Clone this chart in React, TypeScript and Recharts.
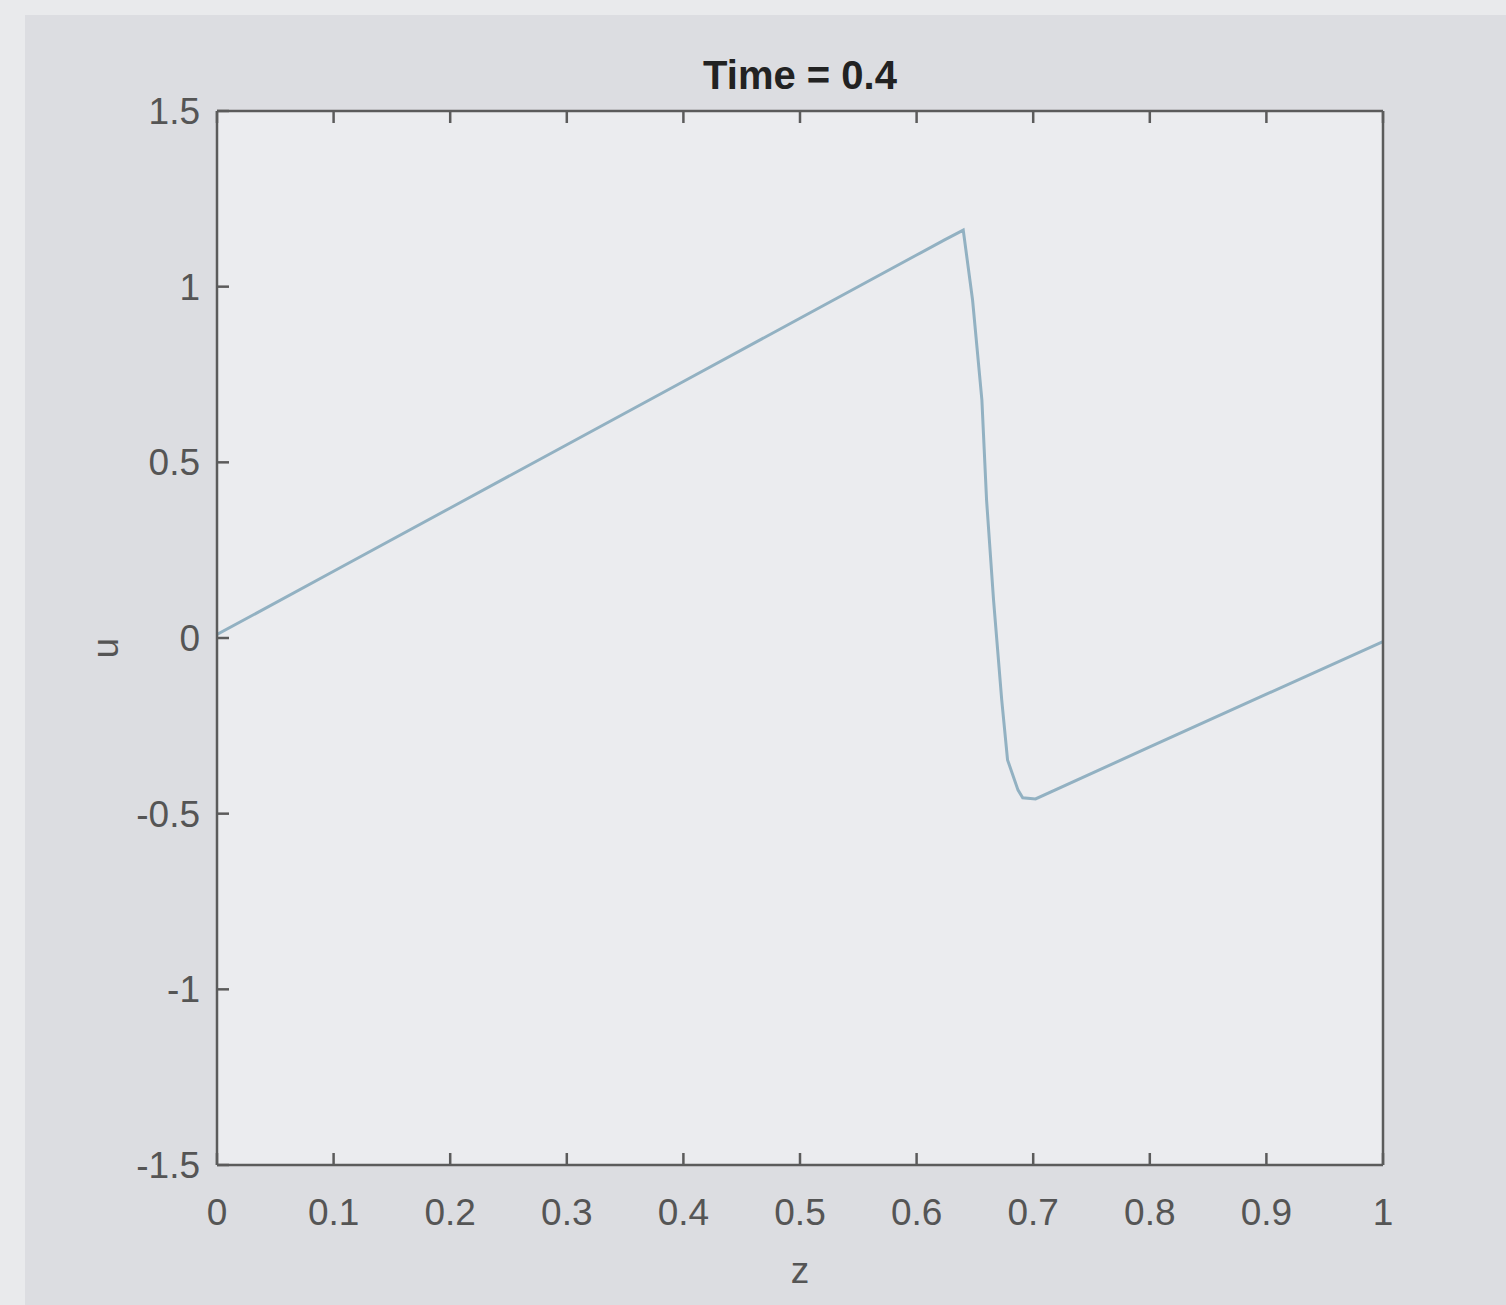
import * as React from "react";
import { CartesianGrid, Line, LineChart, XAxis, YAxis } from "recharts";

// z positions and the solution u at t = 0.4
const zValues = [
  0, 0.1, 0.2, 0.3, 0.4, 0.5, 0.6, 0.624, 0.64, 0.648, 0.656, 0.66, 0.666,
  0.673, 0.678, 0.687, 0.691, 0.702, 0.8, 0.9, 1,
];
const uValues = [
  0.01, 0.19, 0.37, 0.55, 0.73, 0.91, 1.09, 1.133, 1.161, 0.962, 0.677, 0.393,
  0.108, -0.176, -0.347, -0.433, -0.455, -0.458, -0.31, -0.16, -0.01,
];

const xTicks = [0, 0.1, 0.2, 0.3, 0.4, 0.5, 0.6, 0.7, 0.8, 0.9, 1];
const yTicks = [-1.5, -1, -0.5, 0, 0.5, 1, 1.5];

const title = "Time = 0.4";
const xLabel = "z";
const yLabel = "u";

const data = zValues.map((z, i) => ({ z, u: uValues[i] }));

const axisColor = "#5b5b5b";
const textColor = "#555555";
const font = "'Liberation Sans', Arial, sans-serif";
const tickFont = { fontSize: 37, fill: textColor, fontFamily: font };

const noTick = () => <g />;

export default function App() {
  return (
    <div
      style={{
        position: "absolute",
        left: 0,
        top: 0,
        width: 1506,
        height: 1305,
        background: "#e9eaec",
        overflow: "hidden",
      }}
    >
      <div
        style={{
          position: "absolute",
          left: 25,
          top: 15,
          width: 1481,
          height: 1290,
          background: "#dcdde1",
        }}
      />
      <div style={{ position: "absolute", left: 0, top: 0 }}>
        <LineChart
          width={1506}
          height={1305}
          data={data}
          margin={{ top: 110, right: 122, bottom: 80, left: 157 }}
        >
          <CartesianGrid
            horizontal={false}
            vertical={false}
            fill="#ebecef"
            stroke="none"
          />
          <XAxis
            dataKey="z"
            type="number"
            domain={[0, 1]}
            ticks={xTicks}
            interval={0}
            allowDataOverflow
            height={60}
            stroke={axisColor}
            strokeWidth={2.5}
            tickSize={-12}
            tickMargin={46}
            tick={tickFont}
            tickFormatter={(v: number) => String(v)}
            label={{
              value: xLabel,
              position: "insideBottom",
              offset: -58,
              fill: textColor,
              fontSize: 37,
              fontFamily: font,
            }}
          />
          <XAxis
            xAxisId="top"
            dataKey="z"
            type="number"
            orientation="top"
            domain={[0, 1]}
            ticks={xTicks}
            interval={0}
            height={1}
            stroke={axisColor}
            strokeWidth={2.5}
            tickSize={-12}
            tick={noTick}
            label={{
              value: title,
              position: "top",
              offset: 21,
              fill: "#222222",
              fontSize: 40,
              fontWeight: "bold",
              fontFamily: font,
            }}
          />
          <YAxis
            type="number"
            domain={[-1.5, 1.5]}
            ticks={yTicks}
            interval={0}
            allowDataOverflow
            width={60}
            stroke={axisColor}
            strokeWidth={2.5}
            tickSize={-12}
            tickMargin={29}
            tick={tickFont}
            tickFormatter={(v: number) => String(v)}
            label={{
              value: yLabel,
              angle: -90,
              position: "left",
              offset: 52,
              fill: textColor,
              fontSize: 37,
              fontFamily: font,
            }}
          />
          <YAxis
            yAxisId="right"
            type="number"
            orientation="right"
            domain={[-1.5, 1.5]}
            ticks={yTicks}
            interval={0}
            width={1}
            stroke={axisColor}
            strokeWidth={2.5}
            tickSize={-12}
            tick={noTick}
          />
          <Line
            type="linear"
            dataKey="u"
            stroke="#92b1c2"
            strokeWidth={3}
            dot={false}
            isAnimationActive={false}
          />
        </LineChart>
      </div>
    </div>
  );
}
